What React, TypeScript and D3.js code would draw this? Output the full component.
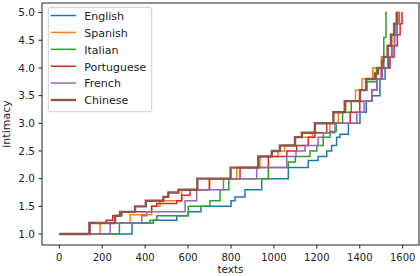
import React from 'react';
import * as d3 from 'd3';

// sorted intimacy scores per language, stored as [first text index, score] steps
const languages = ['English', 'Spanish', 'Italian', 'Portuguese', 'French', 'Chinese'];
const colors = ['#1f77b4', '#ff7f0e', '#2ca02c', '#d62728', '#9467bd', '#8c564b'];

const englishSteps: [number, number][] = [
  [0, 1.0], [339, 1.2], [439, 1.25], [547, 1.33], [600, 1.4], [660, 1.5], [800, 1.6],
  [819, 1.67], [865, 1.8], [943, 2.0], [1067, 2.2], [1160, 2.33], [1206, 2.4],
  [1246, 2.5], [1269, 2.6], [1292, 2.75], [1308, 2.8], [1347, 3.0], [1401, 3.2],
  [1430, 3.4], [1456, 3.5], [1494, 3.8], [1518, 4.0], [1535, 4.2], [1550, 4.4],
  [1562, 4.6], [1572, 4.8], [1578, 5.0],
];
const spanishSteps: [number, number][] = [
  [0, 1.0], [190, 1.2], [330, 1.35], [430, 1.5], [469, 1.6], [570, 1.8], [699, 2.0],
  [827, 2.2], [935, 2.4], [1019, 2.5], [1050, 2.6], [1100, 2.75], [1180, 2.83],
  [1261, 3.0], [1300, 3.2], [1335, 3.4], [1380, 3.6], [1410, 3.8], [1460, 4.0],
  [1500, 4.2], [1530, 4.4], [1550, 4.6], [1568, 4.8], [1580, 5.0],
];
const italianSteps: [number, number][] = [
  [0, 1.0], [280, 1.2], [423, 1.25], [454, 1.33], [601, 1.5], [702, 1.6], [749, 1.8],
  [790, 2.0], [974, 2.2], [1067, 2.3], [1100, 2.4], [1168, 2.5], [1200, 2.6],
  [1230, 2.75], [1261, 2.85], [1290, 3.0], [1320, 3.2], [1360, 3.4], [1400, 3.6],
  [1433, 3.75], [1478, 4.0], [1502, 4.13], [1512, 4.55], [1522, 5.0],
];
const portugueseSteps: [number, number][] = [
  [0, 1.0], [143, 1.2], [218, 1.25], [249, 1.33], [291, 1.4], [430, 1.5], [454, 1.55],
  [547, 1.6], [570, 1.7], [609, 1.8], [700, 2.0], [842, 2.2], [974, 2.4], [1060, 2.5],
  [1106, 2.6], [1160, 2.75], [1191, 2.83], [1246, 3.0], [1355, 3.2], [1400, 3.4],
  [1456, 3.6], [1480, 3.8], [1500, 4.0], [1541, 4.2], [1560, 4.4], [1575, 4.6],
  [1588, 4.8], [1597, 5.0],
];
const frenchSteps: [number, number][] = [
  [0, 1.0], [237, 1.2], [384, 1.33], [407, 1.4], [586, 1.6], [640, 1.8], [765, 2.0],
  [920, 2.2], [1060, 2.4], [1103, 2.5], [1145, 2.6], [1206, 2.75], [1230, 2.83],
  [1284, 3.0], [1386, 3.2], [1420, 3.4], [1456, 3.6], [1480, 3.8], [1505, 4.0],
  [1530, 4.2], [1548, 4.4], [1562, 4.6], [1574, 4.8], [1585, 5.0],
];
const chineseSteps: [number, number][] = [
  [0, 1.0], [140, 1.2], [260, 1.33], [283, 1.4], [353, 1.5], [403, 1.6], [485, 1.67],
  [508, 1.75], [555, 1.8], [643, 2.0], [798, 2.2], [927, 2.4], [990, 2.5], [1028, 2.6],
  [1098, 2.75], [1130, 2.83], [1191, 3.0], [1277, 3.2], [1330, 3.4], [1401, 3.6],
  [1430, 3.8], [1470, 3.9], [1485, 4.0], [1510, 4.2], [1530, 4.4], [1545, 4.6],
  [1560, 4.8], [1572, 5.0],
];
const lastIndex = [1582, 1583, 1527, 1600, 1588, 1575];
const allSteps = [englishSteps, spanishSteps, italianSteps, portugueseSteps, frenchSteps, chineseSteps];

const xTicks = [0, 200, 400, 600, 800, 1000, 1200, 1400, 1600];
const yTicks = [1.0, 1.5, 2.0, 2.5, 3.0, 3.5, 4.0, 4.5, 5.0];

const W = 420;
const H = 276;
const box = { left: 42, right: 419, top: 3, bottom: 245 };
const font = 'DejaVu Sans, sans-serif';

const App: React.FC = () => {
  const x = d3.scaleLinear().domain([0, 1600]).range([59.3, 402.7]);
  const y = d3.scaleLinear().domain([1, 5]).range([234, 12.6]);

  const line = d3.line<[number, number]>()
    .x((d) => x(d[0]))
    .y((d) => y(d[1]))
    .curve(d3.curveStepAfter);

  const series = allSteps.map((steps, i) => {
    const pts = [...steps, [lastIndex[i], steps[steps.length - 1][1]] as [number, number]];
    return line(pts) || '';
  });

  return (
    <svg width={W} height={H} style={{ position: 'absolute', left: 0, top: 0 }} fontFamily={font}>
      <rect width={W} height={H} fill="#fff" />
      <defs>
        <clipPath id="plotclip">
          <rect x={box.left} y={box.top} width={box.right - box.left} height={box.bottom - box.top} />
        </clipPath>
      </defs>

      <g clipPath="url(#plotclip)" fill="none" strokeLinejoin="miter">
        {series.map((d, i) => (
          <path key={languages[i]} d={d} stroke={colors[i]} strokeWidth={i === 5 ? 2.4 : 1.5} />
        ))}
      </g>

      {/* spines */}
      <rect x={box.left} y={box.top} width={box.right - box.left} height={box.bottom - box.top}
        fill="none" stroke="#222" strokeWidth={1} />

      {/* x axis */}
      {xTicks.map((t) => (
        <g key={'x' + t}>
          <line x1={x(t)} x2={x(t)} y1={box.bottom} y2={box.bottom + 3.5} stroke="#222" strokeWidth={1} />
          <text x={x(t)} y={261} fontSize={10} textAnchor="middle" fill="#222">{t}</text>
        </g>
      ))}
      <text x={(box.left + box.right) / 2} y={273} fontSize={10.5} textAnchor="middle" fill="#222">texts</text>

      {/* y axis */}
      {yTicks.map((t) => (
        <g key={'y' + t}>
          <line x1={box.left - 3.5} x2={box.left} y1={y(t)} y2={y(t)} stroke="#222" strokeWidth={1} />
          <text x={35} y={y(t)} dy="0.36em" fontSize={10.5} textAnchor="end" fill="#222">{t.toFixed(1)}</text>
        </g>
      ))}
      <text transform={`translate(9.5, ${(box.top + box.bottom) / 2}) rotate(-90)`} fontSize={11}
        textAnchor="middle" fill="#222">intimacy</text>

      {/* legend */}
      <rect x={48.3} y={7.3} width={103.4} height={104.4} rx={2.5} fill="#fff" fillOpacity={0.8}
        stroke="#ccc" strokeWidth={1} />
      {languages.map((name, i) => {
        const cy = 16 + 16.9 * i;
        return (
          <g key={'leg' + name}>
            <line x1={50.7} x2={76} y1={cy - 0.5} y2={cy - 0.5} stroke={colors[i]}
              strokeWidth={i === 5 ? 2.4 : 1.5} />
            <text x={84.3} y={cy} dy="0.35em" fontSize={11} fill="#222">{name}</text>
          </g>
        );
      })}
    </svg>
  );
};

export default App;
